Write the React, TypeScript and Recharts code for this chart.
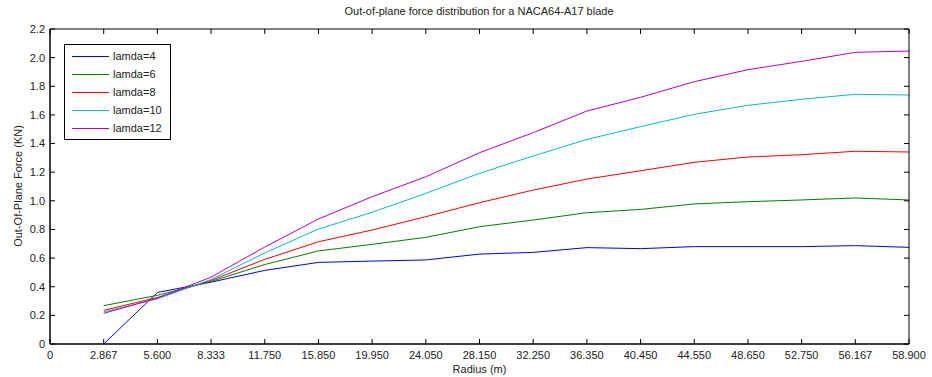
import { LineChart, Line, XAxis, YAxis, Legend, Label } from "recharts";

const radius = ["0", "2.867", "5.600", "8.333", "11.750", "15.850", "19.950", "24.050", "28.150", "32.250", "36.350", "40.450", "44.550", "48.650", "52.750", "56.167", "58.900"];
const lamda4 = [null, 0, 0.36, 0.432, 0.514, 0.57, 0.579, 0.587, 0.628, 0.64, 0.673, 0.666, 0.68, 0.68, 0.68, 0.687, 0.675];
const lamda6 = [null, 0.268, 0.34, 0.437, 0.555, 0.65, 0.696, 0.745, 0.819, 0.866, 0.917, 0.94, 0.978, 0.994, 1.006, 1.02, 1.006];
const lamda8 = [null, 0.235, 0.325, 0.444, 0.591, 0.714, 0.796, 0.889, 0.987, 1.075, 1.152, 1.21, 1.269, 1.306, 1.322, 1.346, 1.341];
const lamda10 = [null, 0.224, 0.315, 0.451, 0.636, 0.803, 0.92, 1.052, 1.192, 1.313, 1.429, 1.518, 1.604, 1.667, 1.709, 1.744, 1.739];
const lamda12 = [null, 0.214, 0.32, 0.467, 0.677, 0.873, 1.029, 1.168, 1.336, 1.476, 1.627, 1.723, 1.832, 1.916, 1.974, 2.037, 2.046];
const yTicks = [0, 0.2, 0.4, 0.6, 0.8, 1.0, 1.2, 1.4, 1.6, 1.8, 2.0, 2.2];

const series = [
  { key: "l4", name: "lamda=4", values: lamda4, color: "#0000ff" },
  { key: "l6", name: "lamda=6", values: lamda6, color: "#008000" },
  { key: "l8", name: "lamda=8", values: lamda8, color: "#ff0000" },
  { key: "l10", name: "lamda=10", values: lamda10, color: "#00bfbf" },
  { key: "l12", name: "lamda=12", values: lamda12, color: "#bf00bf" },
];

const data = radius.map((r, i) => {
  const row: Record<string, any> = { r };
  series.forEach((s) => (row[s.key] = s.values[i]));
  return row;
});

const font = "'Liberation Sans', Arial, sans-serif";
const tickStyle = { fontSize: 11, fill: "#222", fontFamily: font };
const fmtY = (v: number) => (v === 0 ? "0" : v.toFixed(1));
const noLabel = () => <g />;

// legend drawn from our own series list so order + colours stay as in the figure
function LegendBox() {
  return (
    <div style={{ border: "1px solid #000", background: "#fff", padding: "2px 8px 2px 7px", fontFamily: font, fontSize: 11, color: "#222", width: 90 }}>
      {series.map((s) => (
        <div key={s.key} style={{ display: "flex", alignItems: "center", height: 18 }}>
          <span style={{ display: "inline-block", width: 37, height: 0, borderTop: `1px solid ${s.color}`, marginRight: 4 }} />
          <span>{s.name}</span>
        </div>
      ))}
    </div>
  );
}

export default function App() {
  return (
    <div style={{ position: "absolute", left: 0, top: 0, width: 932, height: 377, background: "#fff" }}>
      <div style={{ position: "absolute", left: 0, width: 958, top: 5, textAlign: "center", fontFamily: font, fontSize: 11, color: "#222" }}>
        Out-of-plane force distribution for a NACA64-A17 blade
      </div>
      <div style={{ position: "absolute", left: 18, top: 186, transform: "translate(-50%, -50%) rotate(-90deg)", whiteSpace: "nowrap", fontFamily: font, fontSize: 11, color: "#222" }}>
        Out-Of-Plane Force (KN)
      </div>
      <LineChart width={932} height={377} data={data} margin={{ top: 0, right: 0, bottom: 0, left: 0 }}>
        <XAxis dataKey="r" interval={0} height={33} tickSize={-5} tickMargin={12} tick={tickStyle} axisLine={{ stroke: "#000", strokeWidth: 1.5 }} tickLine={{ stroke: "#000" }}>
          <Label value="Radius (m)" position="insideBottom" offset={4} style={{ fontSize: 11, fill: "#222", fontFamily: font }} />
        </XAxis>
        <XAxis xAxisId="top" orientation="top" dataKey="r" interval={0} height={29} tickSize={-5} tick={noLabel} axisLine={{ stroke: "#000" }} tickLine={{ stroke: "#000" }} />
        <YAxis domain={[0, 2.2]} ticks={yTicks} width={50} tickSize={-5} tickMargin={10} tick={tickStyle} tickFormatter={fmtY} axisLine={{ stroke: "#000", strokeWidth: 1.5 }} tickLine={{ stroke: "#000" }} allowDataOverflow />
        <YAxis yAxisId="right" orientation="right" domain={[0, 2.2]} ticks={yTicks} width={23} tickSize={-5} tick={noLabel} axisLine={{ stroke: "#000" }} tickLine={{ stroke: "#000" }} />
        <Legend layout="horizontal" align="center" verticalAlign="middle" content={<LegendBox />} wrapperStyle={{ left: 64, top: 44, width: "auto" }} />
        {series.map((s) => (
          <Line key={s.key} dataKey={s.key} name={s.name} type="linear" stroke={s.color} strokeWidth={1} dot={false} activeDot={false} isAnimationActive={false} />
        ))}
        {/* invisible series so the top and right frame axes are drawn */}
        <Line xAxisId="top" yAxisId="right" dataKey="l4" stroke="none" dot={false} activeDot={false} legendType="none" isAnimationActive={false} />
      </LineChart>
    </div>
  );
}
